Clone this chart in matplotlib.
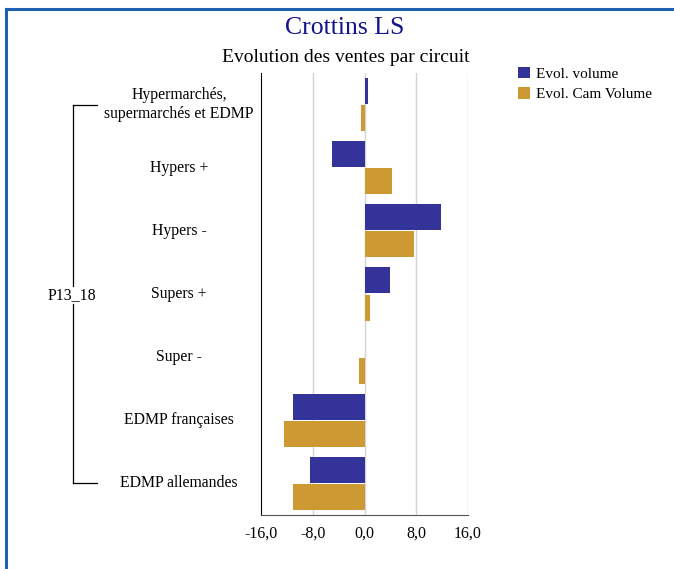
import matplotlib.pyplot as plt
import matplotlib.transforms as mtransforms
import numpy as np

plt.rcParams['font.family'] = ['Liberation Serif', 'DejaVu Serif']

categories = ['Hypermarchés,\nsupermarchés et EDMP', 'Hypers +', 'Hypers -',
              'Supers +', 'Super -', 'EDMP françaises', 'EDMP allemandes']
evol_volume = [0.6, -5.0, 11.9, 4.0, 0.1, -11.1, -8.4]
evol_cam_volume = [-0.5, 4.3, 7.6, 0.8, -0.8, -12.5, -11.0]
xticks = [-16, -8, 0, 8, 16]
xtick_labels = ['-16,0', '-8,0', '0,0', '8,0', '16,0']
group_label = 'P13_18'

W, H = 674, 569
fig = plt.figure(figsize=(W / 100, H / 100), dpi=100)
ax = fig.add_axes([261 / W, 1 - 515 / H, 207 / W, 442 / H])

y = np.arange(len(categories))
h = 0.41
ax.barh(y - 0.215, evol_volume, height=h, color='#333399', label='Evol. volume', zorder=3)
ax.barh(y + 0.215, evol_cam_volume, height=h, color='#CC9933', label='Evol. Cam Volume', zorder=3)

ax.set_xlim(-16, 16)
ax.set_ylim(len(categories) - 0.5, -0.5)
ax.set_xticks(xticks)
ax.set_xticklabels(xtick_labels, fontsize=11.5)
ax.set_yticks([])
ax.tick_params(axis='x', length=0, pad=8)
for v in xticks[1:]:
    ax.axvline(v, color='#d4d4d4', lw=1, zorder=1)
for s in ['top', 'right']:
    ax.spines[s].set_visible(False)
ax.spines['left'].set_color('black')
ax.spines['bottom'].set_color('#555555')

# category labels, centred to the left of the axis
trans = mtransforms.blended_transform_factory(fig.transFigure, ax.transData)
for i, c in enumerate(categories):
    ax.text(179 / W, i, c, transform=trans, ha='center', va='center',
            fontsize=11.3, linespacing=1.2)

# group bracket
fx = lambda px: px / W
fy = lambda py: 1 - py / H
bx = 73
fig.add_artist(plt.Line2D([fx(bx), fx(bx)], [fy(105), fy(286)], color='black', lw=0.9))
fig.add_artist(plt.Line2D([fx(bx), fx(bx)], [fy(304), fy(483)], color='black', lw=0.9))
fig.add_artist(plt.Line2D([fx(bx), fx(97)], [fy(105), fy(105)], color='black', lw=0.9))
fig.add_artist(plt.Line2D([fx(bx), fx(97)], [fy(483), fy(483)], color='black', lw=0.9))
fig.text(fx(72), fy(295), group_label, ha='center', va='center', fontsize=11.5)

# titles
fig.text(fx(345), fy(28), 'Crottins LS', ha='center', va='center', fontsize=18.5, color='#14148c')
fig.text(fx(345.5), fy(57), 'Evolution des ventes par circuit', ha='center', va='center', fontsize=14)

fig.legend(loc='upper left', bbox_to_anchor=(fx(510), fy(59)), frameon=False,
           fontsize=11, handlelength=0.8, handleheight=0.8, handletextpad=0.4,
           labelspacing=0.4, borderpad=0)

# frame around the chart
fig.add_artist(plt.Line2D([fx(6), fx(6)], [0, fy(9)], color='#1f5fb0', lw=2.2))
fig.add_artist(plt.Line2D([fx(6), 1], [fy(9), fy(9)], color='#1f5fb0', lw=2.2))

fig.savefig('out.png', dpi=100)
